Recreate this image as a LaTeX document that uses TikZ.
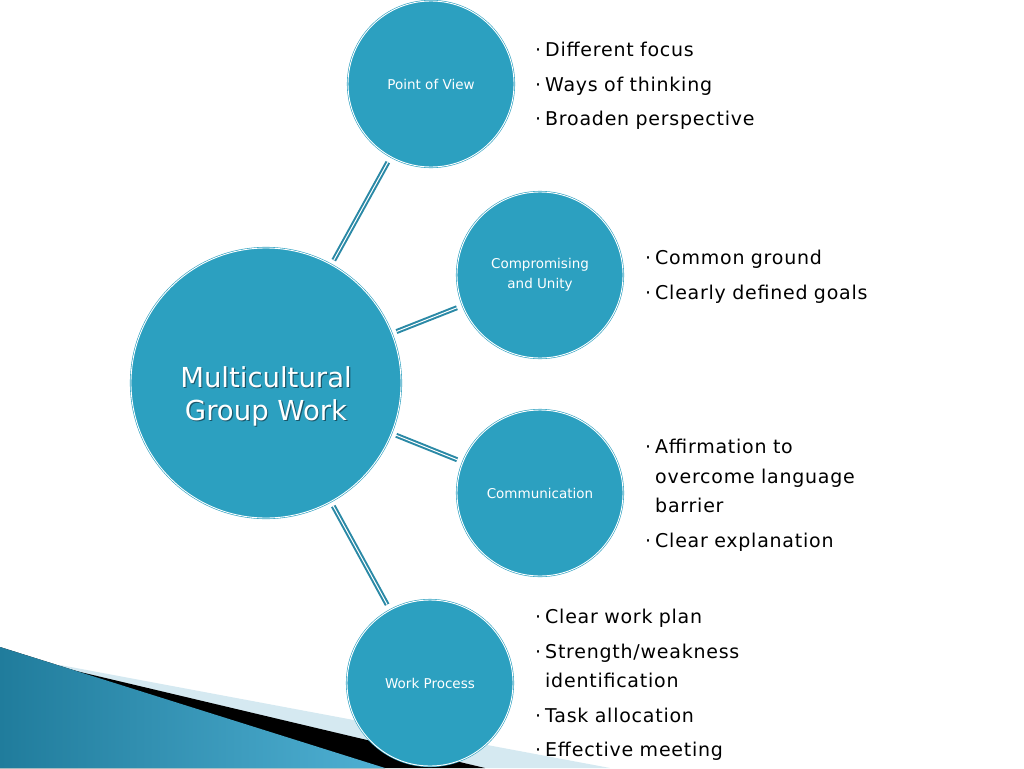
\documentclass[tikz,border=0pt]{standalone}
\usepackage{fontspec}
\setmainfont{DejaVu Sans}
\definecolor{bubfill}{HTML}{2CA0C0}
\definecolor{linkcol}{HTML}{2A89A6}
\definecolor{wedgedark}{HTML}{207C9C}
\definecolor{wedgelight}{HTML}{4FB0D3}
\definecolor{paleband}{HTML}{D5E9F1}
\definecolor{titleshade}{HTML}{1A566A}
\newcommand{\listfont}{\fontsize{19pt}{29.5pt}\selectfont\addfontfeatures{LetterSpace=4}}
\newcommand{\itm}[1]{\hangindent=10pt\hangafter=1\noindent\makebox[10pt][l]{·}#1\par}
\newcommand{\shd}[1]{\makebox[0pt][l]{\raisebox{-1.2pt}{\hspace{1.2pt}\textcolor{titleshade}{#1}}}#1}

\begin{document}
\begin{tikzpicture}[
    x=1pt, y=-1pt,
    bub/.style={circle, fill=bubfill, draw=bubfill, line width=0.6pt,
        double=white, double distance=0.9pt, inner sep=0pt,
        minimum size=166pt, text=white, align=center,
        font=\fontsize{13.5pt}{20pt}\selectfont},
    core/.style={bub, minimum size=270pt},
    link/.style={draw=linkcol, line width=2pt, double=white,
        double distance=1pt, shorten <=5pt, shorten >=6pt},
    list/.style={anchor=base west, inner sep=0pt, text width=260pt,
        font=\listfont,
        execute at begin node={\raggedright\parindent=0pt\parskip=5pt}},
]
\fill[white] (0,0) rectangle (1024,768);
\useasboundingbox (0,0) rectangle (1024,768);

% corner decoration
\fill[paleband] (60,665) -- (610,768) -- (0,768) -- cycle;
\fill[black] (55,666) -- (485,768) -- (0,768) -- cycle;
\fill[left color=wedgedark, right color=wedgelight] (0,647) -- (385,768) -- (0,768) -- cycle;

% circles
\node[core, label={[text=white, align=center, yshift=-14pt,
    font=\fontsize{27.5pt}{33pt}\selectfont]center:{\shd{Multicultural}\\\shd{Group Work}}}]
    (mgw) at (266,383) {};
\node[bub] (view) at (431,84) {Point of View};
\node[bub] (unity) at (540,275) {Compromising\\and Unity};
\node[bub] (comm) at (540,493) {Communication};
\node[bub] (work) at (430,683) {Work Process};

% connectors
\foreach \t in {view,unity,comm,work}
    \draw[link] (mgw) -- (\t);

% bullet lists
\node[list] (viewlist) at (535,56.7)
    {\itm{Different focus}\itm{Ways of thinking}\itm{Broaden perspective}};
\node[list] (unitylist) at (645,264.7)
    {\itm{Common ground}\itm{Clearly defined goals}};
\node[list] (commlist) at (645,453.7)
    {\itm{Affirmation to\newline overcome language\newline barrier}\itm{Clear explanation}};
\node[list] (worklist) at (535,623.7)
    {\itm{Clear work plan}\itm{Strength/weakness\newline identification}\itm{Task allocation}\itm{Effective meeting}};
\end{tikzpicture}
\end{document}
